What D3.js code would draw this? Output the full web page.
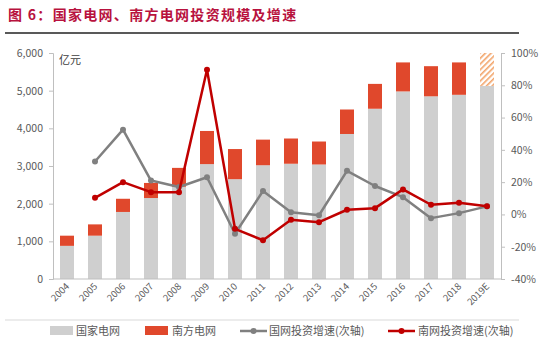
<!DOCTYPE html>
<html><head><meta charset="utf-8">
<script src="https://cdn.jsdelivr.net/npm/d3@7/dist/d3.min.js"></script>
<style>
body{margin:0;background:#fff;}
text{font-family:"Noto Sans CJK SC","Noto Sans",sans-serif;}
</style></head>
<body><svg id="c" width="550" height="351"></svg>
<script>
const years = ["2004","2005","2006","2007","2008","2009","2010","2011","2012","2013","2014","2015","2016","2017","2018","2019E"];
const sgcc = [880,1150,1780,2150,2450,3050,2650,3020,3060,3040,3850,4520,4980,4850,4890,5125];
const csg  = [270,300,350,400,500,880,800,680,670,610,650,660,770,800,860,875];
const sgccGrowth = [null,32.8,52.5,21,17,23,-12,14.5,1.4,-0.5,27,17.6,10.7,-2.3,0.8,5];
const csgGrowth  = [null,10.3,20,13.8,13.8,89.6,-8.9,-16,-3.3,-4.8,2.9,3.9,15.5,6,7.2,5.1];
const leftTicks = [0,1000,2000,3000,4000,5000,6000];
const rightTicks = [-40,-20,0,20,40,60,80,100];
const legendLabels = ["国家电网","南方电网","国网投资增速(次轴)","南网投资增速(次轴)"];

const svg = d3.select("#c");
const L=53, R=501, T=53, B=279;
const x = d3.scaleBand().domain(years).range([L,R]).paddingInner(0.5).paddingOuter(0.25);
const y = d3.scaleLinear().domain([0,6000]).range([B,T]);
const y2 = d3.scaleLinear().domain([-40,100]).range([B,T]);

// title
svg.append("text").attr("x",8).attr("y",20).attr("fill","#b8123e").attr("font-size",14).attr("font-weight","bold")
  .attr("letter-spacing",1.3)
  .text("图 6：国家电网、南方电网投资规模及增速");
svg.append("line").attr("x1",5).attr("x2",519).attr("y1",33).attr("y2",33).attr("stroke","#222").attr("stroke-width",1.6);

// hatch pattern
const defs = svg.append("defs");
const pat = defs.append("pattern").attr("id","hatch").attr("patternUnits","userSpaceOnUse").attr("width",4).attr("height",4).attr("patternTransform","rotate(45)");
pat.append("rect").attr("width",4).attr("height",4).attr("fill","#fff");
pat.append("rect").attr("width",1.6).attr("height",4).attr("fill","#f2a46a");

// bars
const bw = x.bandwidth();
svg.append("g").selectAll("rect").data(years).join("rect")
  .attr("x",d=>x(d)).attr("width",bw)
  .attr("y",(d,i)=>y(sgcc[i])).attr("height",(d,i)=>B-y(sgcc[i])).attr("fill","#cfcfcf");
svg.append("g").selectAll("rect").data(years).join("rect")
  .attr("x",d=>x(d)).attr("width",bw)
  .attr("y",(d,i)=>y(sgcc[i]+csg[i])).attr("height",(d,i)=>y(sgcc[i])-y(sgcc[i]+csg[i]))
  .attr("fill",(d,i)=>i===years.length-1?"url(#hatch)":"#e0482c");

// axes
const gl = svg.append("g").attr("transform",`translate(${L},0)`)
  .call(d3.axisLeft(y).tickValues(leftTicks).tickFormat(d3.format(",")).tickSize(4).tickPadding(6));
const gr = svg.append("g").attr("transform",`translate(${R},0)`)
  .call(d3.axisRight(y2).tickValues(rightTicks).tickFormat(d=>d+"%").tickSize(4).tickPadding(6));
[gl,gr].forEach(g=>{
  g.select(".domain").attr("stroke","#bfbfbf");
  g.selectAll(".tick line").attr("stroke","#bfbfbf");
  g.selectAll("text").attr("fill","#595959").attr("font-size",10.5).attr("font-family","Calibri,'Liberation Sans','Noto Sans',sans-serif");
});
svg.append("line").attr("x1",L).attr("x2",R).attr("y1",B).attr("y2",B).attr("stroke","#bfbfbf");
const gx = svg.append("g").attr("transform",`translate(0,${B})`).call(d3.axisBottom(x).tickSize(0).tickPadding(0));
gx.select(".domain").remove();
gx.selectAll("text").attr("fill","#595959").attr("font-size",9.5)
  .attr("font-family","Calibri,'Liberation Sans','Noto Sans',sans-serif")
  .attr("text-anchor","end").attr("dy","0").attr("transform","translate(3,8) rotate(-45)");

svg.append("text").attr("x",59).attr("y",64).attr("fill","#404040").attr("font-size",11).text("亿元");

// lines
function drawLine(vals,color,w,r){
  const pts = years.map((d,i)=>[x(d)+bw/2,vals[i]]).filter(p=>p[1]!==null);
  const line = d3.line().x(p=>p[0]).y(p=>y2(p[1]));
  svg.append("path").datum(pts).attr("d",line).attr("fill","none").attr("stroke",color).attr("stroke-width",w).attr("stroke-linejoin","round");
  svg.append("g").selectAll("circle").data(pts).join("circle").attr("cx",p=>p[0]).attr("cy",p=>y2(p[1])).attr("r",r).attr("fill",color);
}
drawLine(sgccGrowth,"#808080",2.5,3);
drawLine(csgGrowth,"#c00000",2.5,3);

// legend
svg.append("line").attr("x1",5).attr("x2",519).attr("y1",320).attr("y2",320).attr("stroke","#d9d9d9");
const ly=331;
svg.append("rect").attr("x",50).attr("y",ly-5).attr("width",23).attr("height",9).attr("fill","#cfcfcf");
svg.append("rect").attr("x",145).attr("y",ly-5).attr("width",23).attr("height",9).attr("fill","#e0482c");
svg.append("line").attr("x1",240).attr("x2",267).attr("y1",ly).attr("y2",ly).attr("stroke","#808080").attr("stroke-width",2.5);
svg.append("circle").attr("cx",253.5).attr("cy",ly).attr("r",3).attr("fill","#808080");
svg.append("line").attr("x1",388).attr("x2",415).attr("y1",ly).attr("y2",ly).attr("stroke","#c00000").attr("stroke-width",2.5);
svg.append("circle").attr("cx",401.5).attr("cy",ly).attr("r",3).attr("fill","#c00000");
const lx=[76,172,269,418];
legendLabels.forEach((t,i)=>svg.append("text").attr("x",lx[i]).attr("y",ly+4).attr("fill","#595959").attr("font-size",11).text(t));
</script></body></html>
